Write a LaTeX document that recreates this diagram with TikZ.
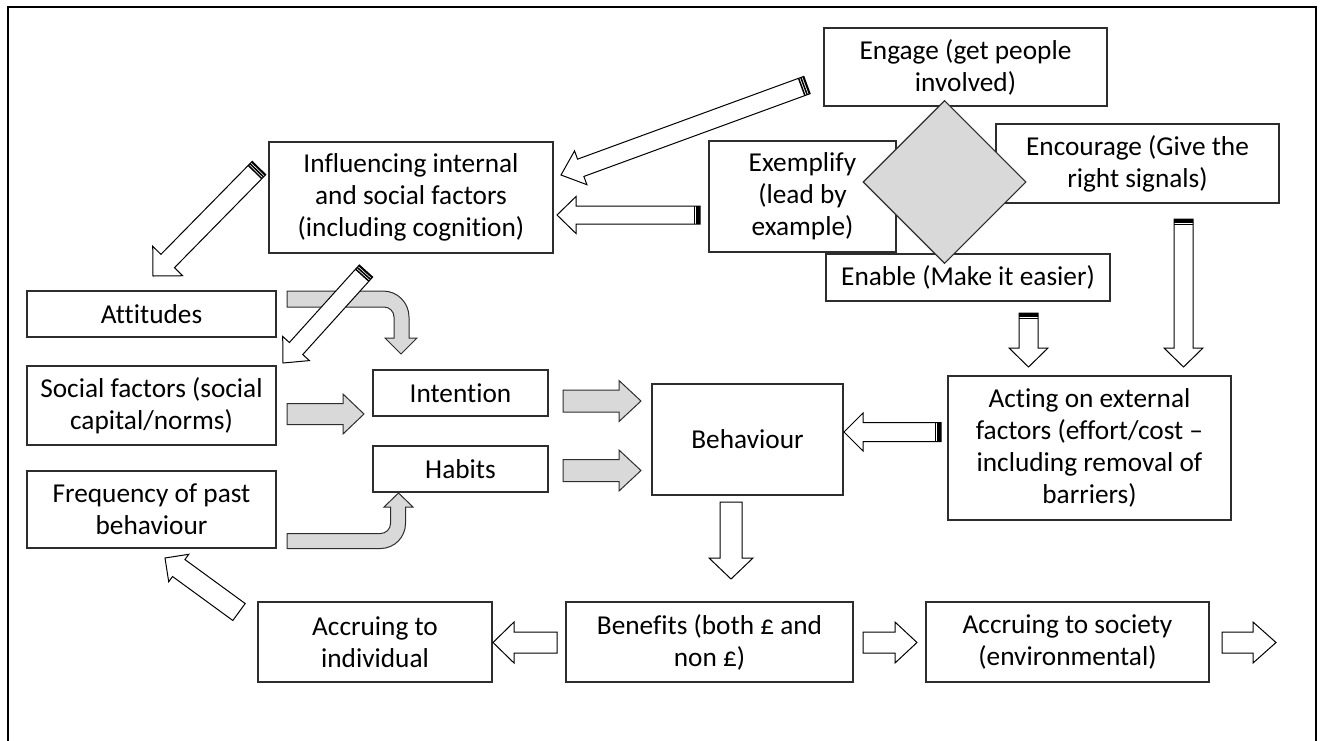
\documentclass[tikz,border=0pt]{standalone}
\usepackage{fontspec}
\setmainfont{Carlito}[Ligatures=NoCommon]
\usetikzlibrary{calc,shapes.geometric}
\definecolor{boxgray}{RGB}{217,217,217}
\definecolor{edge}{RGB}{45,45,45}
\tikzset{
  box/.style={draw=edge, line width=1.1pt, fill=white, inner sep=0pt, align=center,
              font=\fontsize{27.3}{32}\selectfont},
  warrow/.style={draw=black, line width=1pt, fill=white, line join=miter},
  garrow/.style={draw=edge, line width=1pt, fill=boxgray, line join=miter},
  stripe/.style={draw=black, line width=1.5pt},
}
% #1 style, #2 tail, #3 tip, #4 shaft half width, #5 head half width, #6 head length
\newcommand\blockarrow[6]{%
  \coordinate (hb) at ($(#3)!#6!(#2)$);
  \draw[#1] ($(#2)!#4!90:(#3)$) -- ($(hb)!#4!90:(#3)$) -- ($(hb)!#5!90:(#3)$) -- (#3)
    -- ($(hb)!#5!-90:(#3)$) -- ($(hb)!#4!-90:(#3)$) -- ($(#2)!#4!-90:(#3)$) -- cycle;
}
% stripes at the tail: #1 tail, #2 tip, #3 shaft half width
\newcommand\tailstripes[3]{%
  \foreach \d in {0.8pt,3.2pt,5.6pt}{%
    \coordinate (sc) at ($(#1)!\d!(#2)$);
    \draw[stripe] ($(sc)!#3!90:(#2)$) -- ($(sc)!#3!-90:(#2)$);
  }%
}
\begin{document}
\begin{tikzpicture}[x=1pt,y=-1pt]
\useasboundingbox (0,0) rectangle (1325,740);
% outer frame
\draw[line width=2pt] (8,741) -- (8,7) -- (1316,7) -- (1316,741);

% boxes
\node[box, minimum width=283pt, minimum height=78pt] (engage) at (965.5,67) {Engage (get people\\involved)};
\node[box, minimum width=284pt, minimum height=111pt] (infl) at (411,197.5) {Influencing internal\\and social factors\\(including cognition)};
\node[box, minimum width=187pt, minimum height=111pt] (exempl) at (802.5,196.5) {Exemplify\\(lead by\\example)};
\node[box, minimum width=283pt, minimum height=79pt] (encour) at (1137.5,163.5) {Encourage (Give the\\right signals)};
\node[box, minimum width=284pt, minimum height=47pt] (enable) at (968,277.5) {Enable (Make it easier)};
\node[diamond, aspect=1, draw=edge, line width=1.1pt, fill=boxgray, inner sep=0pt,
      minimum width=163pt, minimum height=163pt] (dia) at (944.5,182) {};
\node[box, minimum width=249pt, minimum height=46pt] (att) at (151.5,314) {Attitudes};
\node[box, minimum width=249pt, minimum height=79pt] (soc) at (151.5,405.5) {Social factors (social\\capital/norms)};
\node[box, minimum width=249pt, minimum height=77pt] (freq) at (151.5,509.5) {Frequency of past\\behaviour};
\node[box, minimum width=175pt, minimum height=46pt] (intent) at (460.5,393) {Intention};
\node[box, minimum width=175pt, minimum height=46pt] (habits) at (460.5,469) {Habits};
\node[box, minimum width=191pt, minimum height=111pt] (behav) at (747.5,439.5) {Behaviour};
\node[box, minimum width=283pt, minimum height=144pt] (acting) at (1089.5,448) {Acting on external\\factors (effort/cost --\\including removal of\\barriers)};
\node[box, minimum width=234pt, minimum height=80pt] (accind) at (375,642) {Accruing to\\individual};
\node[box, minimum width=287pt, minimum height=80pt] (benef) at (709.5,642) {Benefits (both £ and\\non £)};
\node[box, minimum width=283pt, minimum height=80pt] (accsoc) at (1067.5,642) {Accruing to society\\(environmental)};

% arrow end points
\coordinate (a1s) at (807,85);    \coordinate (a1t) at (561,175);
\coordinate (a2s) at (700,215);   \coordinate (a2t) at (557,215);
\coordinate (a3s) at (259,168);   \coordinate (a3t) at (153,276);
\coordinate (a4s) at (366,271);   \coordinate (a4t) at (283,363);
\coordinate (a7s) at (287,414);   \coordinate (a7t) at (364,414);
\coordinate (a8s) at (563,401);   \coordinate (a8t) at (641,401);
\coordinate (a9s) at (563,470.5); \coordinate (a9t) at (641,470.5);
\coordinate (a10s) at (941,432);  \coordinate (a10t) at (844,432);
\coordinate (a11s) at (1028.5,313); \coordinate (a11t) at (1028.5,367);
\coordinate (a12s) at (1183.5,219); \coordinate (a12t) at (1183.5,367);
\coordinate (a13s) at (731,502);  \coordinate (a13t) at (731,579);
\coordinate (a14s) at (557,642.5); \coordinate (a14t) at (493,642.5);
\coordinate (a15s) at (863,642.5); \coordinate (a15t) at (917,642.5);
\coordinate (a16s) at (1222,642.5); \coordinate (a16t) at (1276,642.5);
\coordinate (a17s) at (239,612);  \coordinate (a17t) at (165,558);

% curved grey arrows
\draw[garrow] (287,291) -- (383,291) .. controls (397.4,291) and (409,302.6) .. (409,317)
  -- (409,338) -- (417,338) -- (401,354) -- (385,338) -- (394,338) -- (394,317)
  .. controls (394,311.5) and (389.5,307) .. (384,307) -- (287,307) -- cycle;
\draw[garrow] (287,533.5) -- (380.5,533.5) .. controls (386,533.5) and (390.5,529) .. (390.5,523.5)
  -- (390.5,507) -- (384,507) -- (398.5,493) -- (413,507) -- (405.5,507) -- (405.5,523.5)
  .. controls (405.5,537.3) and (394.3,548.5) .. (380.5,548.5) -- (287,548.5) -- cycle;

% straight grey arrows
\blockarrow{garrow}{a7s}{a7t}{10.5pt}{20pt}{21pt}
\blockarrow{garrow}{a8s}{a8t}{11pt}{20.5pt}{22pt}
\blockarrow{garrow}{a9s}{a9t}{11pt}{20.5pt}{22pt}

% white arrows
\blockarrow{warrow}{a1s}{a1t}{9.2pt}{18pt}{21pt}   \tailstripes{a1s}{a1t}{9.2pt}
\blockarrow{warrow}{a2s}{a2t}{9pt}{18.5pt}{19pt}   \tailstripes{a2s}{a2t}{9pt}
\blockarrow{warrow}{a3s}{a3t}{9.5pt}{21pt}{21pt}   \tailstripes{a3s}{a3t}{9.5pt}
\blockarrow{warrow}{a4s}{a4t}{9pt}{18pt}{19.5pt}   \tailstripes{a4s}{a4t}{9pt}
\blockarrow{warrow}{a10s}{a10t}{9.5pt}{19pt}{19pt} \tailstripes{a10s}{a10t}{9.5pt}
\blockarrow{warrow}{a11s}{a11t}{9.5pt}{19.5pt}{19pt} \tailstripes{a11s}{a11t}{9.5pt}
\blockarrow{warrow}{a12s}{a12t}{9.5pt}{19.5pt}{19pt} \tailstripes{a12s}{a12t}{9.5pt}
\blockarrow{warrow}{a13s}{a13t}{11pt}{22pt}{21pt}
\blockarrow{warrow}{a14s}{a14t}{10.5pt}{20.5pt}{21pt}
\blockarrow{warrow}{a15s}{a15t}{10.5pt}{20.5pt}{22pt}
\blockarrow{warrow}{a16s}{a16t}{10.5pt}{20.5pt}{23pt}
\blockarrow{warrow}{a17s}{a17t}{10.5pt}{17pt}{17pt}
\end{tikzpicture}
\end{document}
